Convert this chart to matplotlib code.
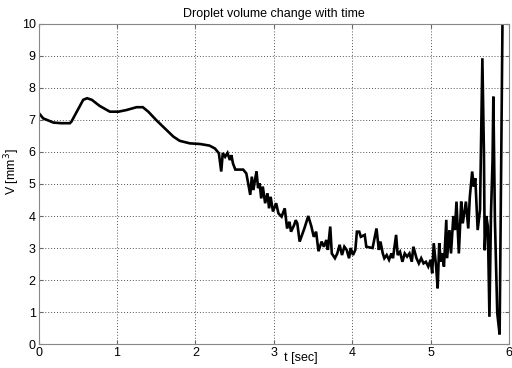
import numpy as np
import matplotlib
matplotlib.use("Agg")
import matplotlib.pyplot as plt

# Droplet volume readings (t in sec, V in mm^3)
t = [0.00, 0.06, 0.19, 0.29, 0.40, 0.42, 0.51, 0.57, 0.62, 0.68, 0.78, 0.91,
     1.02, 1.12, 1.25, 1.33, 1.40, 1.50, 1.63, 1.72, 1.80, 1.93, 2.06, 2.18,
     2.25, 2.30,
     2.33, 2.35, 2.38, 2.41, 2.44, 2.46, 2.48, 2.51, 2.61, 2.65, 2.67, 2.70,
     2.72, 2.74, 2.76, 2.78, 2.80, 2.82, 2.84, 2.86, 2.89, 2.92, 2.94, 2.96,
     2.99, 3.03, 3.06, 3.10, 3.14, 3.17, 3.20, 3.22, 3.26, 3.28,
     3.30, 3.33, 3.36, 3.39, 3.44, 3.48, 3.51, 3.54, 3.57, 3.61, 3.64, 3.67,
     3.69, 3.72, 3.74, 3.78, 3.81, 3.84, 3.87, 3.90, 3.93, 3.96, 3.98, 4.01,
     4.04, 4.06, 4.09, 4.11, 4.16, 4.18, 4.26,
     4.31, 4.34, 4.36, 4.39, 4.41, 4.44, 4.47, 4.50, 4.52, 4.56, 4.58, 4.61,
     4.64, 4.67, 4.70, 4.73, 4.76, 4.78, 4.82, 4.85, 4.88, 4.91, 4.94, 4.97,
     5.00, 5.02, 5.04, 5.07, 5.09, 5.11, 5.13, 5.15, 5.17, 5.20, 5.21, 5.24,
     5.26,
     5.29, 5.31, 5.33, 5.36, 5.39, 5.41, 5.45, 5.48, 5.50, 5.53, 5.55, 5.57,
     5.60, 5.63, 5.66, 5.68, 5.69, 5.71, 5.73, 5.75, 5.77, 5.79, 5.80, 5.82,
     5.85, 5.88, 5.90, 5.92]
V = [7.23, 7.05, 6.92, 6.90, 6.90, 6.95, 7.36, 7.63, 7.68, 7.63, 7.44, 7.26,
     7.26, 7.31, 7.40, 7.40, 7.26, 7.00, 6.69, 6.48, 6.35, 6.27, 6.25, 6.20,
     6.11, 5.96,
     5.39, 5.97, 5.85, 5.97, 5.75, 5.90, 5.64, 5.45, 5.45, 5.33, 5.07, 4.66,
     5.23, 4.81, 5.12, 5.39, 4.87, 5.02, 4.55, 4.92, 4.40, 4.71, 4.24, 4.60,
     4.14, 4.40, 4.08, 3.98, 4.24, 3.61, 3.82, 3.51, 3.72, 3.87,
     3.77, 3.20, 3.41, 3.61, 4.00, 3.67, 3.35, 3.51, 2.90, 3.20, 3.04, 3.25,
     2.94, 3.67, 2.83, 2.68, 2.83, 3.10, 2.78, 3.04, 2.94, 2.68, 3.00, 2.78,
     2.94, 3.51, 3.51, 3.35, 3.41, 3.04, 3.00,
     3.61, 2.94, 3.20, 2.83, 2.68, 2.78, 2.63, 2.83, 2.68, 3.41, 2.78, 2.88,
     2.57, 2.83, 2.73, 2.83, 2.57, 3.04, 2.68, 2.52, 2.68, 2.52, 2.57, 2.42,
     2.63, 2.21, 3.15, 2.42, 1.74, 3.15, 2.57, 2.83, 2.42, 3.88, 2.68, 3.56,
     2.83,
     4.00, 3.56, 4.45, 2.83, 4.45, 3.77, 4.45, 3.61, 4.60, 5.39, 4.92, 5.18,
     3.56, 4.19, 8.93, 5.96, 2.93, 4.00, 3.67, 0.85, 4.08, 5.75, 7.73, 3.87,
     0.96, 0.30, 5.75, 11.0]

plt.rcParams['font.family'] = ['Liberation Sans', 'DejaVu Sans']
plt.rcParams['font.size'] = 9

fig = plt.figure(figsize=(5.12, 3.68), dpi=100)
ax = fig.add_axes([0.0752, 0.0652, 0.919, 0.8696])

ax.plot(t, V, color='black', lw=1.9, solid_joinstyle='miter')

ax.set_xlim(0, 6)
ax.set_ylim(0, 10)
ax.set_xticks(range(0, 7))
ax.set_yticks(range(0, 11))
ax.grid(True, color='#555555', linestyle=(0, (1, 2)), lw=0.7)
ax.tick_params(direction='in', top=True, right=True, length=3, color='#666666', pad=2)
for s in ax.spines.values():
    s.set_color('#888888')

ax.set_title('Droplet volume change with time', fontsize=9, pad=5)
ax.set_xlabel('t [sec]', fontsize=9)
ax.xaxis.set_label_coords(0.558, -0.025)
ax.set_ylabel('V [mm$^3$]', fontsize=9)
ax.yaxis.set_label_coords(-0.036, 0.54)

fig.savefig('out.png', dpi=100)
